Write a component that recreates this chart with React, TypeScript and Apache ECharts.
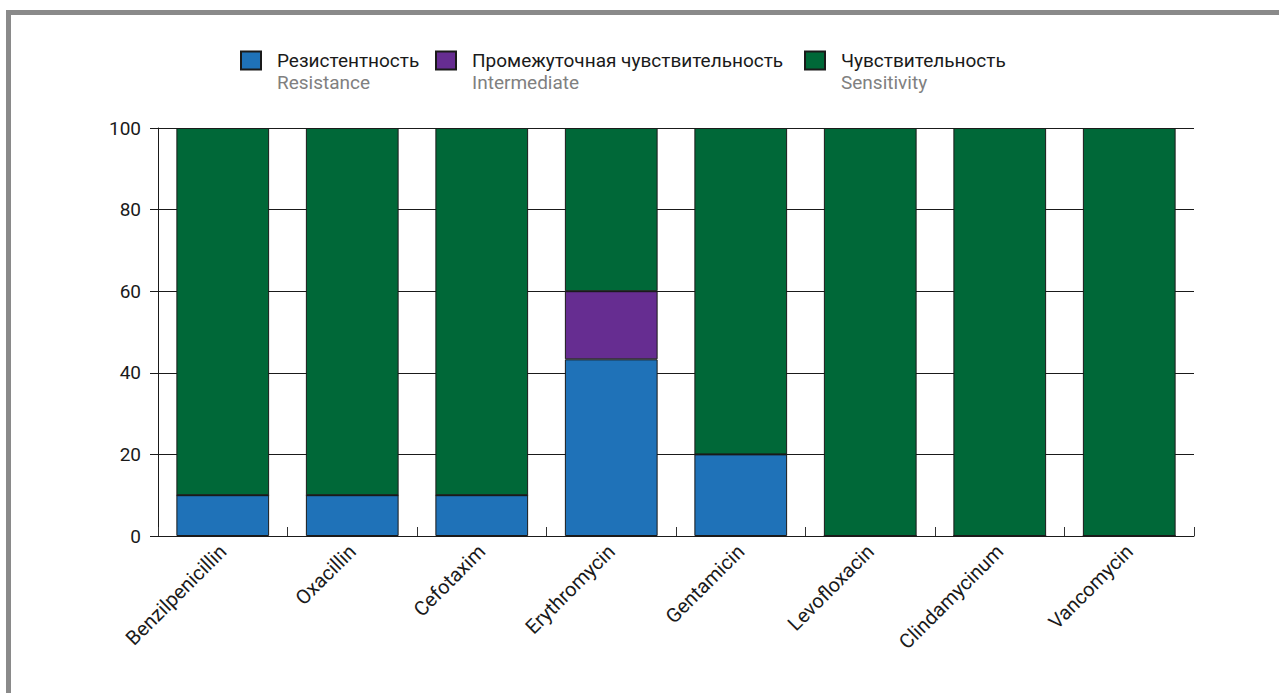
import React, { useEffect, useRef } from "react";
import * as echarts from "echarts";

const categories = [
  "Benzilpenicillin",
  "Oxacillin",
  "Cefotaxim",
  "Erythromycin",
  "Gentamicin",
  "Levofloxacin",
  "Clindamycinum",
  "Vancomycin",
];
const resistance = [10, 10, 10, 43.3, 20, 0, 0, 0];
const intermediate = [0, 0, 0, 16.7, 0, 0, 0, 0];
const sensitivity = [90, 90, 90, 40, 80, 100, 100, 100];

const seriesNamesRu = ["Резистентность", "Промежуточная чувствительность", "Чувствительность"];
const seriesNamesEn = ["Resistance", "Intermediate", "Sensitivity"];
const seriesColors = ["#1f72b8", "#662d91", "#006838"];
const yTicks = { min: 0, max: 100, interval: 20 };

const FONT = "Roboto, 'Noto Sans', sans-serif";

export default function App() {
  const ref = useRef<HTMLDivElement>(null);
  useEffect(() => {
    if (!ref.current) return;
    const chart = echarts.init(ref.current, undefined, { renderer: "svg" });
    const values = [resistance, intermediate, sensitivity];
    const legendLefts = [240, 435, 804];
    const enMap: Record<string, string> = {};
    seriesNamesRu.forEach((n, i) => (enMap[n] = seriesNamesEn[i]));
    const rich = {
      s: { fontSize: 19, lineHeight: 22, fontFamily: FONT },
      a: { fontSize: 19, lineHeight: 22, color: "#1a1a1a", fontFamily: FONT, padding: [0, 0, 0, 11] },
      b: { fontSize: 19, lineHeight: 22, color: "#808080", fontFamily: FONT, padding: [0, 0, 0, 11] },
    };
    chart.setOption({
      animation: false,
      textStyle: { fontFamily: FONT },
      legend: seriesNamesRu.map((n, i) => ({
        data: [n],
        left: legendLefts[i],
        top: 29,
        padding: 0,
        icon: "rect",
        itemWidth: 20,
        itemHeight: 18,
        selectedMode: false,
        formatter: (name: string) => `{s| }\n{a|${name}}\n{b|${enMap[name]}}`,
        textStyle: { rich },
      })),
      grid: { left: 158, right: 85, top: 128, bottom: 157, containLabel: false },
      xAxis: {
        type: "category",
        data: categories,
        boundaryGap: true,
        axisLine: { lineStyle: { color: "#1a1a1a", width: 1 } },
        axisTick: { show: true, inside: true, length: 9, lineStyle: { color: "#333", width: 1 } },
        axisLabel: {
          rotate: 45,
          margin: 12,
          fontSize: 20,
          color: "#1a1a1a",
          fontFamily: FONT,
          interval: 0,
        },
      },
      yAxis: {
        type: "value",
        min: yTicks.min,
        max: yTicks.max,
        interval: yTicks.interval,
        axisLine: { show: true, lineStyle: { color: "#1a1a1a", width: 1 } },
        axisTick: { show: true, length: 8, lineStyle: { color: "#1a1a1a", width: 1 } },
        axisLabel: { fontSize: 19, color: "#1a1a1a", margin: 17, fontFamily: FONT },
        splitLine: { show: true, lineStyle: { color: "#1a1a1a", width: 1 } },
      },
      series: seriesNamesRu.map((n, i) => ({
        name: n,
        type: "bar",
        stack: "total",
        data: values[i],
        barWidth: "71.6%",
        itemStyle: { color: seriesColors[i], borderColor: "#1a1a1a", borderWidth: 1 },
      })),
    });
    return () => chart.dispose();
  }, []);
  return (
    <div style={{ position: "fixed", left: 0, top: 0, width: 1279, height: 693, background: "#fff" }}>
      <div
        style={{
          position: "absolute",
          left: 6,
          top: 10,
          right: 0,
          bottom: 0,
          borderTop: "5px solid #8a8a8a",
          borderLeft: "5px solid #8a8a8a",
        }}
      />
      <div ref={ref} style={{ position: "absolute", left: 0, top: 0, width: 1279, height: 693 }} />
    </div>
  );
}
